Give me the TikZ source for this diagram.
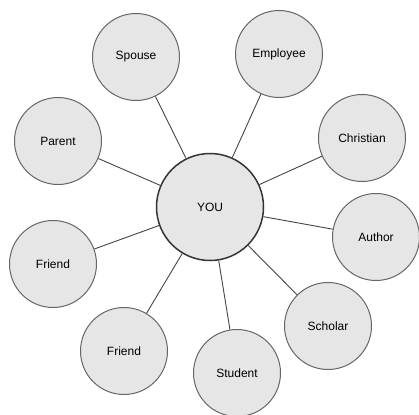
\documentclass[tikz,border=0pt]{standalone}
\usepackage{fontspec}
\setmainfont{Liberation Sans}
\definecolor{fillgray}{HTML}{E6E6E6}
\definecolor{strokegray}{HTML}{666666}
\definecolor{centerstroke}{HTML}{333333}
\definecolor{linegray}{HTML}{444444}
\begin{document}
\begin{tikzpicture}[x=1pt,y=-1pt,
  role/.style={circle, draw=strokegray, fill=fillgray, line width=1pt, minimum size=87pt, inner sep=0pt, font=\fontsize{12}{14}\selectfont},
  centre/.style={circle, draw=centerstroke, fill=fillgray, line width=1.5pt, minimum size=107pt, inner sep=0pt, font=\fontsize{12}{14}\selectfont},
  link/.style={draw=linegray, line width=0.9pt}]
\useasboundingbox (0,0) rectangle (419,414);
\node[centre] (you) at (210,207) {YOU};
\node[role] (spouse) at (136,57) {Spouse};
\node[role] (employee) at (279,54) {Employee};
\node[role] (christian) at (362,138) {Christian};
\node[role] (author) at (376,237) {Author};
\node[role] (scholar) at (328,326) {Scholar};
\node[role] (student) at (237,373) {Student};
\node[role] (friendb) at (124,351) {Friend};
\node[role] (frienda) at (53,264) {Friend};
\node[role] (parent) at (58,141) {Parent};
\foreach \n in {spouse,employee,christian,author,scholar,student,friendb,frienda,parent}
  \draw[link] (you) -- (\n);
\end{tikzpicture}
\end{document}
